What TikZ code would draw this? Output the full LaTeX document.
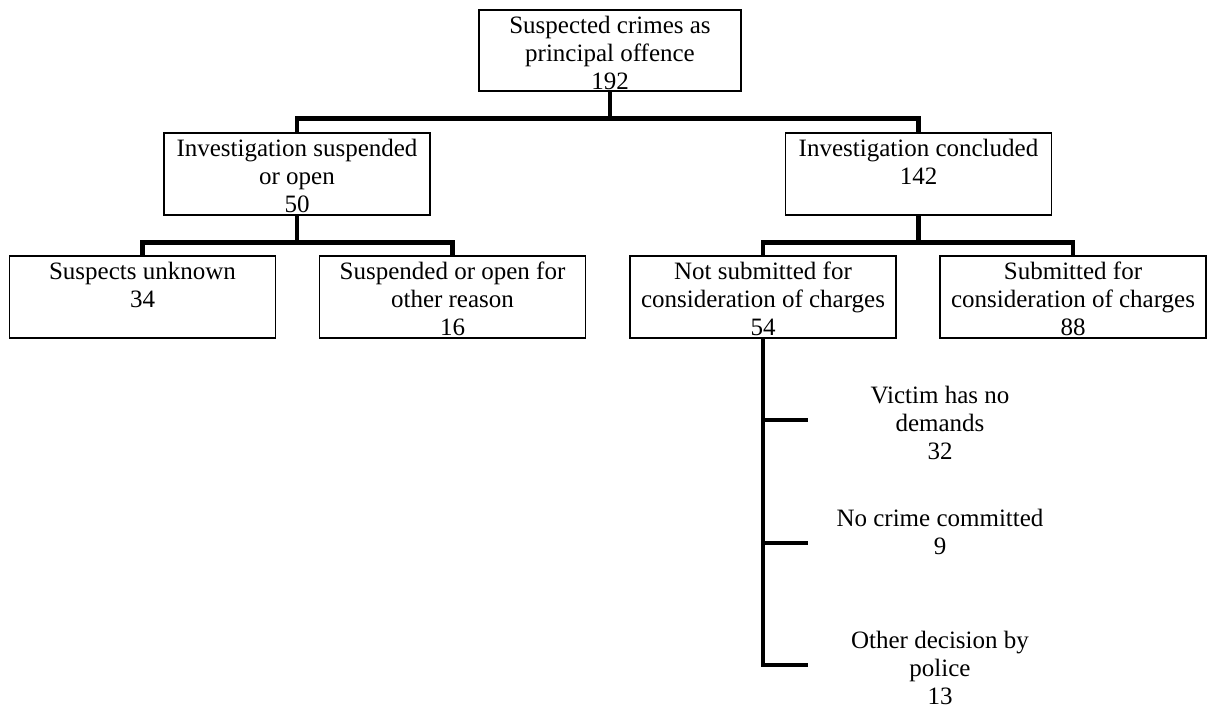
\documentclass[tikz,border=0pt]{standalone}
\usepackage{fontspec}
\setmainfont{Liberation Serif}
\usetikzlibrary{positioning}

\tikzset{
  box/.style={draw,line width=0.75pt,minimum width=133pt,minimum height=41pt,inner sep=0pt},
  nobox/.style={minimum width=132pt,minimum height=41pt,inner sep=0pt},
  txt/.style={align=center,inner sep=0pt,font=\fontsize{12.5}{14}\selectfont},
  link/.style={line width=2.3pt}
}

\begin{document}
\begin{tikzpicture}[x=0.5pt,y=-0.5pt]
  \useasboundingbox (0,0) rectangle (1207,708);
  % boxes
  \node[box,minimum width=131pt,minimum height=40.5pt] (root) at (610,50.5) {};
  \node[box] (open) at (297,174) {};
  \node[box] (concl) at (918.5,174) {};
  \node[box] (unknown) at (142.5,297) {};
  \node[box] (otherreason) at (452.5,297) {};
  \node[box] (notsub) at (763,297) {};
  \node[box] (sub) at (1073,297) {};
  \node[nobox] (victim) at (940,420) {};
  \node[nobox] (nocrime) at (940,543) {};
  \node[nobox] (police) at (940,665) {};
  % texts, top aligned in the boxes
  \node[txt,below=2.3pt of root.north] (rootT) {\strut Suspected crimes as\\principal offence\\192};
  \node[txt,below=2.3pt of open.north] (openT) {\strut Investigation suspended\\or open\\50};
  \node[txt,below=2.3pt of concl.north] (conclT) {\strut Investigation concluded\\142};
  \node[txt,below=2.3pt of unknown.north] (unknownT) {\strut Suspects unknown\\34};
  \node[txt,below=2.3pt of otherreason.north] (otherreasonT) {\strut Suspended or open for\\other reason\\16};
  \node[txt,below=2.3pt of notsub.north] (notsubT) {\strut Not submitted for\\consideration of charges\\54};
  \node[txt,below=2.3pt of sub.north] (subT) {\strut Submitted for\\consideration of charges\\88};
  \node[txt,below=2.3pt of victim.north] (victimT) {\strut Victim has no\\demands\\32};
  \node[txt,below=2.3pt of nocrime.north] (nocrimeT) {\strut No crime committed\\9};
  \node[txt,below=2.3pt of police.north] (policeT) {\strut Other decision by\\police\\13};
  % connectors
  \draw[link] (root.south) -- ++(0,27) -| (open.north);
  \draw[link] (root.south) -- ++(0,27) -| (concl.north);
  \draw[link] (open.south) -- ++(0,27) -| (unknown.north);
  \draw[link] (open.south) -- ++(0,27) -| (otherreason.north);
  \draw[link] (concl.south) -- ++(0,27) -| (notsub.north);
  \draw[link] (concl.south) -- ++(0,27) -| (sub.north);
  \draw[link] (notsub.south) |- (victim.west);
  \draw[link] (notsub.south) |- (nocrime.west);
  \draw[link] (notsub.south) |- (police.west);
\end{tikzpicture}
\end{document}
